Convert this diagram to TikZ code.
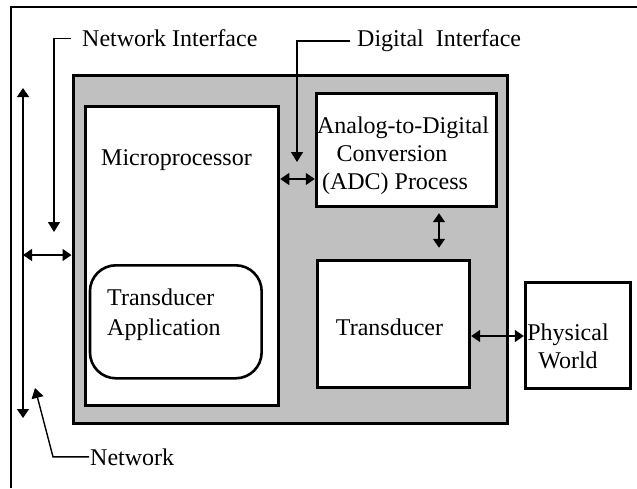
\documentclass[tikz,border=0pt]{standalone}
\usepackage{fontspec}
\setmainfont{Liberation Serif}
\usetikzlibrary{arrows.meta}
\definecolor{panel}{RGB}{192,192,192}
\begin{document}
\begin{tikzpicture}[x=1pt,y=-1pt,
  font=\fontsize{24}{28}\selectfont,
  box/.style={draw, line width=3pt, rectangle, inner sep=0pt},
  txt/.style={inner sep=0pt, anchor=base},
  lbl/.style={inner sep=0pt, anchor=base west},
  conn/.style={line width=1.4pt},
  tipend/.style={-{Triangle[length=10pt,width=12pt]}},
  bothends/.style={{Triangle[length=9pt,width=12pt]}-{Triangle[length=9pt,width=12pt]}}
]
\useasboundingbox (0,0) rectangle (637,488);
\fill[white] (0,0) rectangle (637,488);
\draw[line width=2.3pt] (11.2,488) -- (11.2,6.8) -- (637,6.8);

% boxes
\node[box, fill=panel, minimum width=434.5pt, minimum height=348pt] (module) at (290.25,249) {};
\node[box, fill=white, minimum width=193pt, minimum height=298.6pt] (micro) at (182.25,256) {};
\node[box, fill=white, line width=2.6pt, rounded corners=26pt, minimum width=171.7pt, minimum height=113pt] (app) at (175.8,321.8) {};
\node[box, fill=white, minimum width=180pt, minimum height=113.2pt] (adc) at (406.25,149.6) {};
\node[box, fill=white, minimum width=152.5pt, minimum height=127.5pt] (trans) at (393.4,324) {};
\node[box, fill=white, minimum width=105pt, minimum height=105.2pt] (phys) at (577.8,335.4) {};

% texts
\node[txt] (microtext) at (176.5,165) {Microprocessor};
\node[lbl] (app1) at (107,305) {Transducer};
\node[lbl] (app2) at (107,335) {Application};
\node[txt] (adc1) at (403,133) {Analog-to-Digital};
\node[txt] (adc2) at (392,161) {Conversion};
\node[txt] (adc3) at (395,189) {(ADC) Process};
\node[txt] (transtext) at (389.5,335) {Transducer};
\node[txt] (phys1) at (568,340) {Physical};
\node[txt] (phys2) at (568,368) {World};

% labels
\node[lbl] (ni) at (82,46.7) {Network Interface};
\node[lbl] (di) at (357,46.7) {Digital~~Interface};
\node[lbl] (net) at (90,465) {Network};

% leaders
\coordinate (niTip) at (54,232);
\draw[conn,tipend] ([xshift=-11pt]ni.west) -| (niTip);
\coordinate (diTip) at (297,162);
\draw[conn,tipend] ([xshift=-7pt]di.west) -| (diTip);
\coordinate (netBend) at (53,458);
\coordinate (netTip) at (35,388);
\draw[conn,tipend] ([xshift=-1pt]net.west) -- (net.west -| netBend) -- (netTip);

% network bus
\coordinate (busTop) at (23,88);
\coordinate (busBot) at (23,418);
\draw[conn,bothends] (busTop) -- (busBot);
\coordinate (busJ) at (23,255);
\draw[conn,bothends] (busJ) -- (busJ -| module.west);

% internal connectors
\coordinate (maY) at (0,179);
\draw[conn,bothends] (micro.east |- maY) -- (adc.west |- maY);
\coordinate (atX) at (439,0);
\draw[conn,bothends] ([yshift=-5.5pt]adc.south -| atX) -- ([yshift=11pt]trans.north -| atX);
\coordinate (tpY) at (0,336);
\draw[conn,bothends] (trans.east |- tpY) -- (phys.west |- tpY);
\end{tikzpicture}
\end{document}
